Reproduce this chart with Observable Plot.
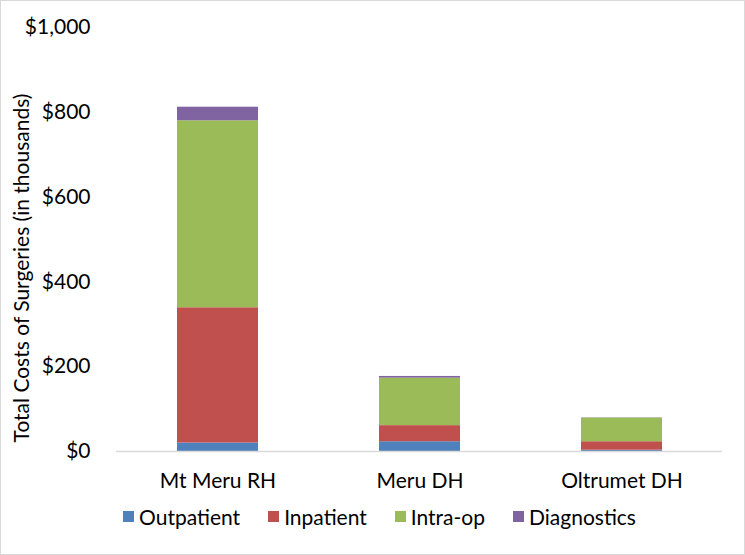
<!DOCTYPE html>
<html>
<head>
<meta charset="utf-8">
<script src="https://cdn.jsdelivr.net/npm/d3@7"></script>
<script src="https://cdn.jsdelivr.net/npm/@observablehq/plot@0.6"></script>
<style>
  html, body { margin: 0; padding: 0; background: #fff; }
  #wrap { position: relative; width: 745px; height: 555px; box-sizing: border-box; border: 1px solid #d9d9d9; overflow: hidden; font-family: Lato, "Open Sans", sans-serif; }
  #chart svg { display: block; }
  #ylabel { position: absolute; left: 19px; top: 267px; transform: translate(-50%, -50%) rotate(-90deg); white-space: nowrap; font-size: 21px; color: #000; line-height: 1; }
  #legend { display: flex; justify-content: center; margin-top: 6px; font-size: 21px; color: #000; padding-left: 14px; }
  .item { display: flex; align-items: center; margin: 0 14px; }
  .sw { width: 11px; height: 11px; margin-right: 5px; }
</style>
</head>
<body>
<div id="wrap">
  <div id="chart"></div>
  <div id="legend"></div>
  <div id="ylabel">Total Costs of Surgeries (in thousands)</div>
</div>
<script>
const hospitals = ["Mt Meru RH", "Meru DH", "Oltrumet DH"];
const costTypes = ["Outpatient", "Inpatient", "Intra-op", "Diagnostics"];
const colors = ["#4f81bd", "#c0504d", "#9bbb59", "#8064a2"];
const outpatient = [20, 23, 3];
const inpatient = [319, 38, 20];
const intraop = [441, 112, 56];
const diagnostics = [32, 4, 0.5];
const yTicks = [0, 200, 400, 600, 800, 1000];

const series = [outpatient, inpatient, intraop, diagnostics];
const data = [];
costTypes.forEach((t, i) => {
  hospitals.forEach((h, j) => data.push({hospital: h, type: t, value: series[i][j]}));
});

const chart = Plot.plot({
  width: 743,
  height: 497,
  marginLeft: 115,
  marginRight: 22,
  marginTop: 26,
  marginBottom: 47,
  style: {fontFamily: "Lato, 'Open Sans', sans-serif", fontSize: "21px", color: "#000", background: "#fff"},
  x: {domain: hospitals, paddingInner: 0.6, paddingOuter: 0.3, label: null, tickSize: 0, tickPadding: 22},
  y: {domain: [0, 1000], ticks: yTicks, tickFormat: d3.format("$,.0f"), tickSize: 0, tickPadding: 26, label: null},
  color: {domain: costTypes, range: colors},
  marks: [
    Plot.barY(data, {x: "hospital", y: "value", fill: "type", order: costTypes}),
    Plot.ruleY([0], {stroke: "#d9d9d9", strokeWidth: 1.5})
  ]
});
document.getElementById("chart").appendChild(chart);

const legend = document.getElementById("legend");
costTypes.forEach((t, i) => {
  const it = document.createElement("div");
  it.className = "item";
  const sw = document.createElement("span");
  sw.className = "sw";
  sw.style.background = colors[i];
  const lb = document.createElement("span");
  lb.textContent = t;
  it.appendChild(sw); it.appendChild(lb);
  legend.appendChild(it);
});
</script>
</body>
</html>
